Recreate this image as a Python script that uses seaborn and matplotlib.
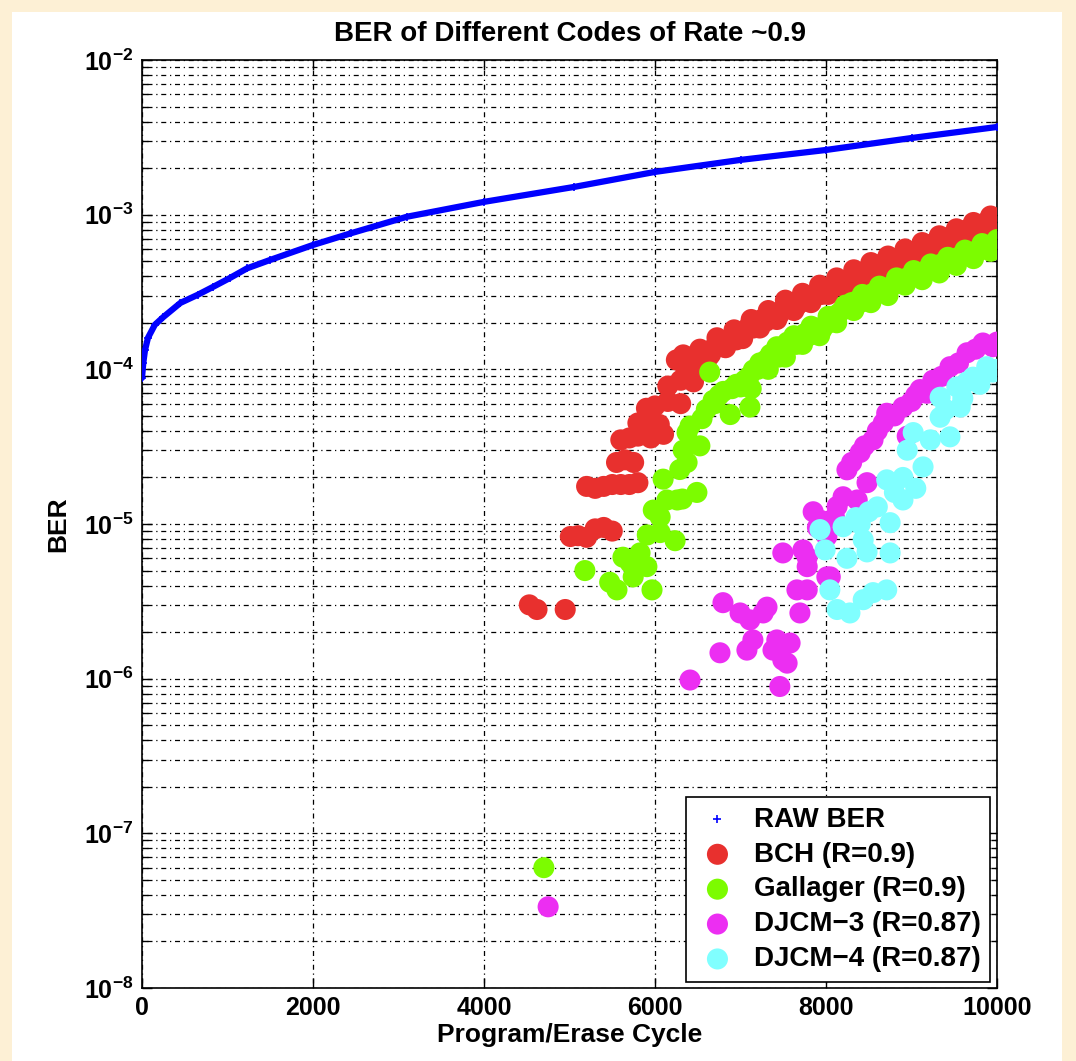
import numpy as np
import pandas as pd
import matplotlib
matplotlib.use("Agg")
import matplotlib.pyplot as plt
import matplotlib.ticker as mticker
from matplotlib.patches import Rectangle
import seaborn as sns

# raw bit error rate
raw_cycles = [0, 15, 35, 70, 150, 250, 450, 650, 830, 1030, 1230, 1500, 2000, 2450,
              3100, 4000, 5050, 6000, 7000, 8000, 9000, 10000]
raw_ber = [8.8e-5, 1.1e-4, 1.33e-4, 1.6e-4, 1.94e-4, 2.18e-4, 2.69e-4, 3.03e-4, 3.41e-4,
           3.9e-4, 4.5e-4, 5.1e-4, 6.37e-4, 7.6e-4, 9.7e-4, 1.21e-3, 1.51e-3, 1.89e-3,
           2.26e-3, 2.62e-3, 3.13e-3, 3.69e-3]

bch_cycles = [4530, 4620, 4950, 5010, 5100, 5200, 5300, 5400, 5500,
              5200, 5300, 5400, 5500, 5600, 5700, 5800, 5550, 5650, 5750,
              5600, 5700, 5800, 5950, 6100, 5800, 5950, 6050, 5900, 6000, 6150, 6300,
              6150, 6300, 6450, 6250, 6330,
              6350, 6400, 6450, 6500, 6550, 6600, 6650, 6700, 6750, 6800, 6850, 6900, 6950,
              7000, 7050, 7100, 7150, 7200, 7250, 7300, 7350, 7400, 7450, 7500, 7550, 7600,
              7650, 7700, 7750, 7800, 7850, 7900, 7950, 8000, 8050, 8100, 8150, 8200, 8250,
              8300, 8350, 8400, 8450, 8500, 8550, 8600, 8650, 8700, 8750, 8800, 8850, 8900,
              8950, 9000, 9050, 9100, 9150, 9200, 9250, 9300, 9350, 9400, 9450, 9500, 9550,
              9600, 9650, 9700, 9750, 9800, 9850, 9900, 9950, 10000,
              6425, 6625, 6825, 7025, 7225, 7425, 7625, 7825, 8025, 8225, 8425, 8625, 8825,
              9025, 9225, 9425, 9625, 9825,
              6525, 6725, 6925, 7125, 7325, 7525, 7725, 7925, 8125, 8325, 8525, 8725, 8925,
              9125, 9325, 9525, 9725, 9925]
bch_ber = [3.0e-6, 2.8e-6, 2.8e-6, 8.3e-6, 8.4e-6, 8.2e-6, 9.3e-6, 9.5e-6, 9.0e-6,
           1.75e-5, 1.7e-5, 1.75e-5, 1.8e-5, 1.8e-5, 1.8e-5, 1.85e-5, 2.5e-5, 2.6e-5, 2.5e-5,
           3.5e-5, 3.6e-5, 3.7e-5, 3.6e-5, 3.8e-5, 4.5e-5, 4.6e-5, 4.4e-5, 5.6e-5, 5.8e-5,
           6.2e-5, 6.0e-5, 7.8e-5, 8.5e-5, 8.3e-5, 1.15e-4, 1.24e-4,
           1.05e-4, 1.2e-4, 1.1e-4, 1.15e-4, 1.25e-4, 1.3e-4, 1.25e-4, 1.4e-4, 1.45e-4,
           1.4e-4, 1.55e-4, 1.6e-4, 1.55e-4, 1.7e-4, 1.75e-4, 1.9e-4, 1.85e-4, 1.95e-4,
           2.1e-4, 2.05e-4, 2.2e-4, 2.3e-4, 2.25e-4, 2.45e-4, 2.5e-4, 2.6e-4, 2.55e-4,
           2.7e-4, 2.85e-4, 2.8e-4, 3.0e-4, 3.1e-4, 3.05e-4, 3.25e-4, 3.3e-4, 3.45e-4,
           3.5e-4, 3.7e-4, 3.8e-4, 3.9e-4, 4.1e-4, 4.05e-4, 4.3e-4, 4.4e-4, 4.35e-4,
           4.6e-4, 4.8e-4, 4.9e-4, 5.0e-4, 5.2e-4, 5.1e-4, 5.4e-4, 5.6e-4, 5.5e-4, 5.8e-4,
           6.0e-4, 6.1e-4, 6.3e-4, 6.5e-4, 6.6e-4, 6.8e-4, 7.0e-4, 7.2e-4, 7.4e-4, 7.6e-4,
           7.8e-4, 8.0e-4, 8.2e-4, 8.4e-4, 8.6e-4, 8.8e-4, 9.0e-4, 9.3e-4, 9.5e-4,
           1.02e-4, 1.2e-4, 1.38e-4, 1.58e-4, 1.85e-4, 2.1e-4, 2.4e-4, 2.7e-4, 3.05e-4,
           3.4e-4, 3.85e-4, 4.3e-4, 4.8e-4, 5.3e-4, 5.9e-4, 6.6e-4, 7.3e-4, 8.1e-4,
           1.35e-4, 1.6e-4, 1.8e-4, 2.1e-4, 2.4e-4, 2.8e-4, 3.1e-4, 3.5e-4, 3.9e-4, 4.4e-4,
           4.9e-4, 5.4e-4, 6.0e-4, 6.6e-4, 7.3e-4, 8.1e-4, 8.9e-4, 9.8e-4]

gal_cycles = [4700, 5180, 5470, 5555, 5625, 5710, 5745, 5825, 5905, 5965, 5910, 6060, 6235,
              5980, 6060, 6140, 6260, 6320, 6490, 6095, 6290, 6375, 6330, 6525, 6375, 6410,
              6640, 6680, 6880, 6550, 6600, 6700, 6750, 6800, 6900, 6950, 7000, 7050, 7110,
              7100, 7150, 7200, 7250, 7300, 7350, 7400, 7450, 7500, 7550, 7600, 7650, 7700,
              7750, 7800, 7850, 7900, 7950, 8000, 8050, 8100, 8150, 8200, 8250, 8300, 8350,
              8400, 8450, 8500, 8550, 8600, 8650, 8700, 8750, 8800, 8850, 8900, 8950, 9000,
              9050, 9100, 9150, 9200, 9250, 9300, 9350, 9400, 9450, 9500, 9550, 9600, 9650,
              9700, 9750, 9800, 9850, 9900, 9950, 10000,
              7125, 7325, 7525, 7725, 7925, 8125, 8325, 8525, 8725, 8925, 9125, 9325, 9525,
              9725, 9925,
              7225, 7425, 7625, 7825, 8025, 8225, 8425, 8625, 8825, 9025, 9225, 9425, 9625,
              9825, 10000]
gal_ber = [6.0e-8, 5.0e-6, 4.2e-6, 3.75e-6, 6.1e-6, 5.6e-6, 4.55e-6, 6.5e-6, 5.3e-6, 3.75e-6,
           8.5e-6, 8.8e-6, 7.8e-6, 1.23e-5, 1.11e-5, 1.43e-5, 1.43e-5, 1.45e-5, 1.6e-5,
           1.95e-5, 2.25e-5, 2.5e-5, 3.0e-5, 3.2e-5, 3.9e-5, 4.3e-5, 9.6e-5, 6.3e-5, 5.1e-5,
           4.8e-5, 5.5e-5, 6.0e-5, 6.8e-5, 7.2e-5, 7.5e-5, 8.0e-5, 7.7e-5, 8.5e-5, 5.7e-5,
           9.0e-5, 9.9e-5, 1.0e-4, 1.05e-4, 1.15e-4, 1.25e-4, 1.3e-4, 1.2e-4, 1.35e-4,
           1.5e-4, 1.55e-4, 1.45e-4, 1.6e-4, 1.7e-4, 1.65e-4, 1.75e-4, 1.85e-4, 1.8e-4,
           1.95e-4, 2.1e-4, 2.2e-4, 2.3e-4, 2.45e-4, 2.5e-4, 2.7e-4, 2.75e-4, 2.7e-4,
           2.9e-4, 3.0e-4, 3.1e-4, 3.2e-4, 3.15e-4, 3.35e-4, 3.4e-4, 3.55e-4, 3.7e-4,
           3.75e-4, 3.9e-4, 3.95e-4, 4.1e-4, 4.1e-4, 4.3e-4, 4.45e-4, 4.5e-4, 4.65e-4,
           4.8e-4, 4.9e-4, 5.0e-4, 5.1e-4, 5.3e-4, 5.4e-4, 5.5e-4, 5.7e-4, 5.8e-4, 5.9e-4,
           6.1e-4, 6.2e-4, 6.4e-4, 6.6e-4,
           7.5e-5, 1.0e-4, 1.2e-4, 1.45e-4, 1.65e-4, 2.0e-4, 2.4e-4, 2.7e-4, 3.0e-4, 3.5e-4,
           3.8e-4, 4.2e-4, 4.7e-4, 5.2e-4, 5.8e-4,
           1.1e-4, 1.4e-4, 1.65e-4, 1.9e-4, 2.2e-4, 2.6e-4, 3.05e-4, 3.45e-4, 3.9e-4, 4.35e-4,
           4.8e-4, 5.3e-4, 5.9e-4, 6.5e-4, 6.9e-4]

djcm3_cycles = [4750, 6410, 7460, 6760, 6795, 6995, 7145, 7110, 7265, 7310, 7075, 7425, 7580,
                7495, 7380, 7545, 7695, 7780, 7660, 7495, 7730, 7780, 8010, 8050, 7850, 8130,
                8010, 7780, 7900, 7950, 8100, 8200, 8365, 8480, 8245, 8300, 8400, 8450, 8550,
                8600, 8670, 8710, 8800, 8900, 8950, 9000, 9050, 9100, 9180, 9250, 9350, 9450,
                9550, 9650, 9750, 9835, 9950, 10000]
djcm3_ber = [3.35e-8, 9.8e-7, 8.9e-7, 1.47e-6, 3.1e-6, 2.66e-6, 1.78e-6, 2.4e-6, 2.66e-6,
             2.9e-6, 1.53e-6, 1.78e-6, 1.7e-6, 1.32e-6, 1.53e-6, 1.26e-6, 2.66e-6, 3.75e-6,
             3.75e-6, 6.5e-6, 6.8e-6, 5.3e-6, 4.55e-6, 4.55e-6, 1.2e-5, 1.3e-5, 8.3e-6,
             6.1e-6, 9.5e-6, 1.05e-5, 1.1e-5, 1.5e-5, 1.43e-5, 1.85e-5, 2.24e-5, 2.5e-5,
             2.9e-5, 3.2e-5, 3.5e-5, 4.0e-5, 4.5e-5, 5.2e-5, 5.0e-5, 5.7e-5, 3.7e-5, 6.2e-5,
             6.8e-5, 7.4e-5, 7.0e-5, 8.5e-5, 9.0e-5, 1.04e-4, 1.1e-4, 1.28e-4, 1.35e-4,
             1.48e-4, 1.4e-4, 1.5e-4]

djcm4_cycles = [7930, 7990, 8245, 8480, 8750, 8200, 8435, 8045, 8130, 8280, 8435, 8550, 8710,
                8600, 8750, 8900, 8710, 8900, 9135, 8950, 9020, 9220, 9450, 9335, 9335, 9570,
                9530, 9720, 9880, 9950, 8350, 8500, 8400, 8800, 9050, 9400, 9600, 9650, 9800,
                10000]
djcm4_ber = [9.2e-6, 6.8e-6, 6.0e-6, 6.6e-6, 6.5e-6, 9.6e-6, 7.9e-6, 3.75e-6, 2.8e-6, 2.66e-6,
             3.24e-6, 3.6e-6, 3.75e-6, 1.29e-5, 1.02e-5, 1.43e-5, 1.93e-5, 2.0e-5, 2.34e-5,
             3.0e-5, 3.9e-5, 3.5e-5, 3.66e-5, 4.9e-5, 6.6e-5, 5.7e-5, 7.7e-5, 8.9e-5, 1.04e-4,
             9.6e-5, 1.1e-5, 1.2e-5, 1.0e-5, 1.6e-5, 1.7e-5, 5.5e-5, 6.5e-5, 8.3e-5, 8.0e-5,
             1.0e-4]

series = [
    ("BCH (R=0.9)", bch_cycles, bch_ber, "#E8302E"),
    ("Gallager (R=0.9)", gal_cycles, gal_ber, "#7CFC00"),
    ("DJCM\u22123 (R=0.87)", djcm3_cycles, djcm3_ber, "#EC2EF2"),
    ("DJCM\u22124 (R=0.87)", djcm4_cycles, djcm4_ber, "#80FFFF"),
]
ytick_vals = [1e-8, 1e-7, 1e-6, 1e-5, 1e-4, 1e-3, 1e-2]
xtick_vals = [0, 2000, 4000, 6000, 8000, 10000]

sns.set_style("white")
fam = ["Liberation Sans Narrow", "Liberation Sans", "DejaVu Sans"]
plt.rcParams["font.family"] = fam
plt.rcParams["font.weight"] = "bold"
plt.rcParams["mathtext.fontset"] = "custom"
plt.rcParams["mathtext.rm"] = "Liberation Sans:bold"
plt.rcParams["mathtext.bf"] = "Liberation Sans:bold"
for k in ["text.color", "axes.labelcolor", "xtick.color", "ytick.color"]:
    plt.rcParams[k] = "black"

fig = plt.figure(figsize=(10.76, 10.61), dpi=100)
fig.patch.set_facecolor("#FDF0D5")
# white slide panel behind the plot
fig.patches.append(Rectangle((12 / 1076, 0), 1050 / 1076, 1 - 12 / 1061,
                             transform=fig.transFigure, facecolor="white",
                             edgecolor="none", zorder=-10))
ax = fig.add_axes([142 / 1076, 1 - 988 / 1061, 855 / 1076, 928 / 1061])
ax.set_zorder(5)

raw_df = pd.DataFrame({"cycle": raw_cycles, "ber": raw_ber})
sns.lineplot(data=raw_df, x="cycle", y="ber", ax=ax, color="#0000FF", lw=4.5,
             legend=False, zorder=3)
sns.scatterplot(data=raw_df, x="cycle", y="ber", ax=ax, color="#0000FF", marker="+",
                s=40, linewidth=1.2, label="RAW BER", zorder=3)

for name, xs, ys, col in series:
    d = pd.DataFrame({"cycle": xs, "ber": ys})
    sns.scatterplot(data=d, x="cycle", y="ber", ax=ax, color=col, s=230,
                    edgecolor="none", linewidth=0, label=name, zorder=4)

ax.set_yscale("log")
ax.set_xlim(0, 10000)
ax.set_ylim(1e-8, 1e-2)
ax.set_xticks(xtick_vals)
ax.set_yticks(ytick_vals)
ax.yaxis.set_minor_locator(mticker.LogLocator(base=10, subs=np.arange(2, 10), numticks=20))
ax.yaxis.set_minor_formatter(mticker.NullFormatter())
ax.set_yticklabels([r"$\mathbf{10^{%d}}$" % int(round(np.log10(v))) for v in ytick_vals])

ax.grid(True, which="major", axis="both", color="black", linestyle=(0, (1, 3, 4, 3)),
        linewidth=0.9)
ax.grid(True, which="minor", axis="y", color="black", linestyle=(0, (1, 3, 4, 3)),
        linewidth=0.9)
ax.set_axisbelow(True)

ax.tick_params(which="both", direction="in", top=True, right=True, bottom=True, left=True,
               color="black")
ax.tick_params(which="major", length=7, width=1, labelsize=18, pad=6)
ax.tick_params(which="minor", length=4, width=1)
for lab in ax.get_xticklabels():
    lab.set_fontweight("bold")
for sp in ax.spines.values():
    sp.set_color("black")
    sp.set_linewidth(1.2)

ax.set_title("BER of Different Codes of Rate ~0.9", fontsize=20, fontweight="bold", pad=14)
ax.set_xlabel("Program/Erase Cycle", fontsize=19, fontweight="bold", labelpad=2)
ax.set_ylabel("BER", fontsize=19, fontweight="bold", labelpad=10)

leg = ax.legend(loc="lower right", bbox_to_anchor=(0.992, 0.0065), borderaxespad=0,
                frameon=True, fancybox=False, framealpha=1, edgecolor="black",
                prop={"family": fam, "weight": "bold", "size": 20},
                handlelength=1.6, handletextpad=0.5, labelspacing=0.32, borderpad=0.35,
                markerscale=1.0)
leg.get_frame().set_linewidth(1.2)

fig.savefig("out.png", dpi=100, facecolor=fig.get_facecolor())
